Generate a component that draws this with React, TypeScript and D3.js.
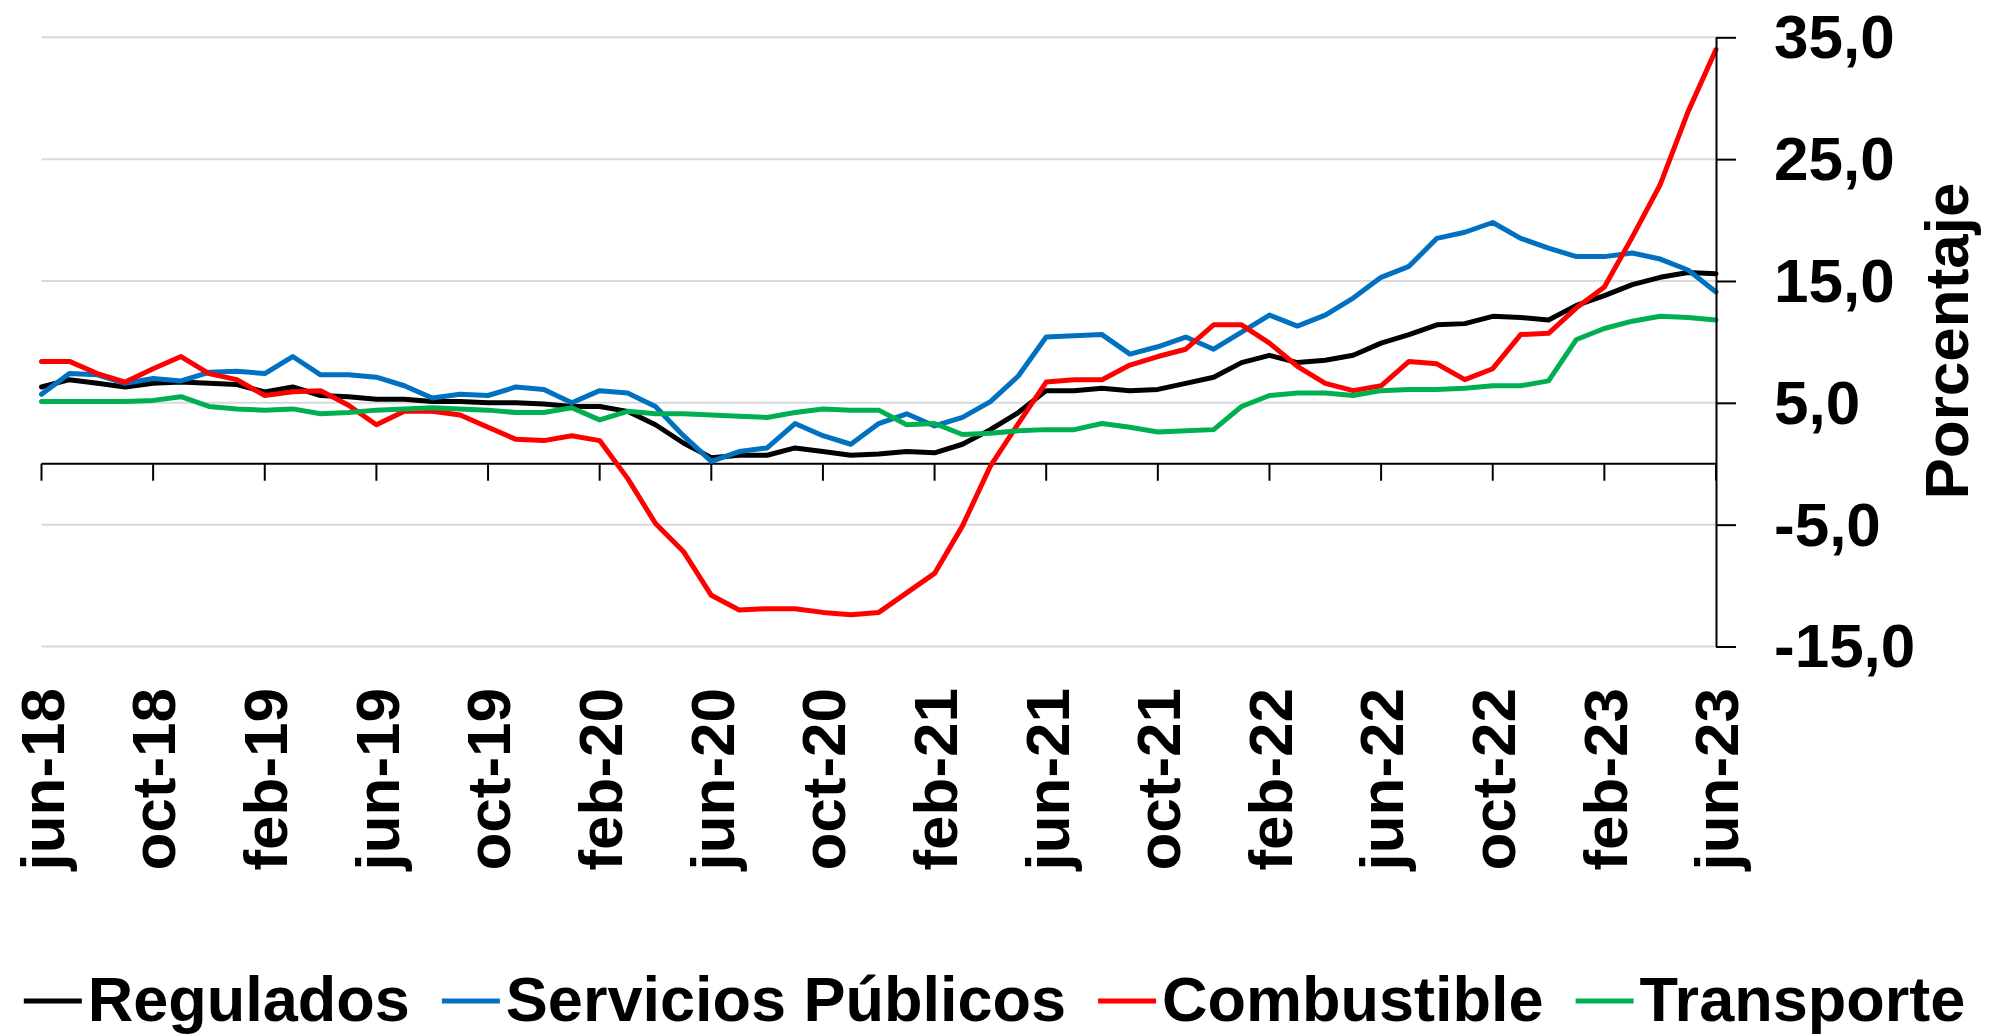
import React, { useRef, useEffect } from "react";
import * as d3 from "d3";

// monthly series jun-18 .. jun-23 (61 points)
const tickLabels = [
  "jun-18", "oct-18", "feb-19", "jun-19", "oct-19", "feb-20", "jun-20", "oct-20",
  "feb-21", "jun-21", "oct-21", "feb-22", "jun-22", "oct-22", "feb-23", "jun-23",
];

const regulados = [
  6.3, 6.9, 6.6, 6.3, 6.6, 6.7, 6.6, 6.5, 5.9, 6.3, 5.6, 5.5, 5.3, 5.3, 5.1, 5.1,
  5.0, 5.0, 4.9, 4.7, 4.7, 4.3, 3.2, 1.7, 0.5, 0.7, 0.7, 1.3, 1.0, 0.7, 0.8, 1.0,
  0.9, 1.6, 2.8, 4.2, 6.0, 6.0, 6.2, 6.0, 6.1, 6.6, 7.1, 8.3, 8.9, 8.3, 8.5, 8.9,
  9.9, 10.6, 11.4, 11.5, 12.1, 12.0, 11.8, 13.0, 13.8, 14.7, 15.3, 15.7, 15.6,
];

const serviciosPublicos = [
  5.7, 7.4, 7.3, 6.6, 7.0, 6.8, 7.5, 7.6, 7.4, 8.8, 7.3, 7.3, 7.1, 6.4, 5.4, 5.7,
  5.6, 6.3, 6.1, 5.0, 6.0, 5.8, 4.7, 2.3, 0.2, 1.0, 1.3, 3.3, 2.3, 1.6, 3.3, 4.1,
  3.1, 3.8, 5.1, 7.2, 10.4, 10.5, 10.6, 9.0, 9.6, 10.4, 9.4, 10.8, 12.2, 11.3, 12.2, 13.6,
  15.3, 16.2, 18.5, 19.0, 19.8, 18.5, 17.7, 17.0, 17.0, 17.3, 16.8, 15.9, 14.1,
];

const combustible = [
  8.4, 8.4, 7.4, 6.7, 7.8, 8.8, 7.4, 6.9, 5.6, 5.9, 6.0, 4.8, 3.2, 4.3, 4.3, 4.0,
  3.0, 2.0, 1.9, 2.3, 1.9, -1.2, -4.9, -7.2, -10.8, -12.0, -11.9, -11.9, -12.2, -12.4, -12.2, -10.6,
  -9.0, -5.1, -0.2, 3.3, 6.7, 6.9, 6.9, 8.1, 8.8, 9.4, 11.4, 11.4, 9.9, 8.0, 6.6, 6.0,
  6.4, 8.4, 8.2, 6.9, 7.8, 10.6, 10.7, 12.8, 14.5, 18.6, 22.9, 28.9, 34.0,
];

const transporte = [
  5.1, 5.1, 5.1, 5.1, 5.2, 5.5, 4.7, 4.5, 4.4, 4.5, 4.1, 4.2, 4.4, 4.5, 4.6, 4.5,
  4.4, 4.2, 4.2, 4.6, 3.6, 4.3, 4.1, 4.1, 4.0, 3.9, 3.8, 4.2, 4.5, 4.4, 4.4, 3.2,
  3.3, 2.4, 2.5, 2.7, 2.8, 2.8, 3.3, 3.0, 2.6, 2.7, 2.8, 4.7, 5.6, 5.8, 5.8, 5.6,
  6.0, 6.1, 6.1, 6.2, 6.4, 6.4, 6.8, 10.2, 11.1, 11.7, 12.1, 12.0, 11.8,
];

const seriesNames = ["Regulados", "Servicios Públicos", "Combustible", "Transporte"];
const seriesColors = ["#000000", "#0070C0", "#FF0000", "#00B050"];
const seriesValues = [regulados, serviciosPublicos, combustible, transporte];

const yTicks = [-15, -5, 5, 15, 25, 35];

const FONT = "'Liberation Sans', Arial, sans-serif";

const App = () => {
  const ref = useRef<SVGSVGElement>(null);

  useEffect(() => {
    document.body.style.margin = "0";
    document.body.style.overflow = "hidden";

    const width = 2003;
    const height = 1035;
    const svg = d3.select(ref.current);
    svg.selectAll("*").remove();
    svg.attr("width", width).attr("height", height);

    const n = regulados.length;
    const x = d3.scaleLinear().domain([0, n - 1]).range([41.5, 1716]);
    const y = d3.scaleLinear().domain([-15, 35]).range([646.5, 37.3]);

    // gridlines
    svg
      .append("g")
      .selectAll("line")
      .data(yTicks)
      .join("line")
      .attr("x1", x(0))
      .attr("x2", x(n - 1))
      .attr("y1", (d) => y(d))
      .attr("y2", (d) => y(d))
      .attr("stroke", "#d9d9d9")
      .attr("stroke-width", 2);

    // category axis at zero
    const xAxis = svg.append("g");
    xAxis
      .append("line")
      .attr("x1", x(0))
      .attr("x2", x(n - 1))
      .attr("y1", y(0))
      .attr("y2", y(0))
      .attr("stroke", "#000")
      .attr("stroke-width", 2);

    const tickIdx = tickLabels.map((_, i) => i * 4);
    xAxis
      .selectAll("line.tick")
      .data(tickIdx)
      .join("line")
      .attr("class", "tick")
      .attr("x1", (d) => x(d))
      .attr("x2", (d) => x(d))
      .attr("y1", y(0))
      .attr("y2", y(0) + 17)
      .attr("stroke", "#000")
      .attr("stroke-width", 2);

    svg
      .append("g")
      .selectAll("text")
      .data(tickLabels)
      .join("text")
      .attr("transform", (_, i) => `translate(${x(tickIdx[i])},688) rotate(-90)`)
      .attr("dy", "0.36em")
      .attr("text-anchor", "end")
      .attr("font-family", FONT)
      .attr("font-weight", "bold")
      .attr("font-size", 62)
      .attr("fill", "#000")
      .text((d) => d);

    // series lines
    const line = d3
      .line<number>()
      .x((_, i) => x(i))
      .y((d) => y(d));

    svg
      .append("g")
      .selectAll("path")
      .data(seriesValues)
      .join("path")
      .attr("d", (d) => line(d))
      .attr("fill", "none")
      .attr("stroke", (_, i) => seriesColors[i])
      .attr("stroke-width", 5)
      .attr("stroke-linejoin", "round")
      .attr("stroke-linecap", "round");

    // value axis on the right
    const yAxis = svg
      .append("g")
      .attr("transform", `translate(${x(n - 1)},0)`)
      .call(
        d3
          .axisRight(y)
          .tickValues(yTicks)
          .tickSize(20)
          .tickSizeOuter(0)
          .tickPadding(38)
          .tickFormat((d) => (d as number).toFixed(1).replace(".", ","))
      );
    yAxis.select(".domain").attr("stroke", "#000").attr("stroke-width", 2);
    yAxis.selectAll(".tick line").attr("stroke", "#000").attr("stroke-width", 2);
    yAxis
      .selectAll(".tick text")
      .attr("dy", "0.33em")
      .attr("font-family", FONT)
      .attr("font-weight", "bold")
      .attr("font-size", 62)
      .attr("fill", "#000");

    svg
      .append("text")
      .attr("transform", "translate(1968,341) rotate(-90)")
      .attr("text-anchor", "middle")
      .attr("font-family", FONT)
      .attr("font-weight", "bold")
      .attr("font-size", 62)
      .attr("fill", "#000")
      .text("Porcentaje");

    // legend
    const legend = svg.append("g");
    const markerW = 58;
    const markerGap = 6;
    const itemGap = 32;
    const baseline = 1021;
    const items = seriesNames.map((name, i) => {
      const g = legend.append("g");
      g.append("line")
        .attr("y1", 1001)
        .attr("y2", 1001)
        .attr("x1", 0)
        .attr("x2", markerW)
        .attr("stroke", seriesColors[i])
        .attr("stroke-width", 5);
      const t = g
        .append("text")
        .attr("x", markerW + markerGap)
        .attr("y", baseline)
        .attr("font-family", FONT)
        .attr("font-weight", "bold")
        .attr("font-size", 63)
        .attr("fill", "#000")
        .text(name);
      const w = (t.node() as SVGTextElement).getComputedTextLength();
      return { g, w: markerW + markerGap + w };
    });
    const total = d3.sum(items, (d) => d.w) + itemGap * (items.length - 1);
    let cx = 994.5 - total / 2;
    items.forEach((it) => {
      it.g.attr("transform", `translate(${cx},0)`);
      cx += it.w + itemGap;
    });
  }, []);

  return <svg ref={ref} style={{ display: "block", background: "#fff" }}></svg>;
};

export default App;
